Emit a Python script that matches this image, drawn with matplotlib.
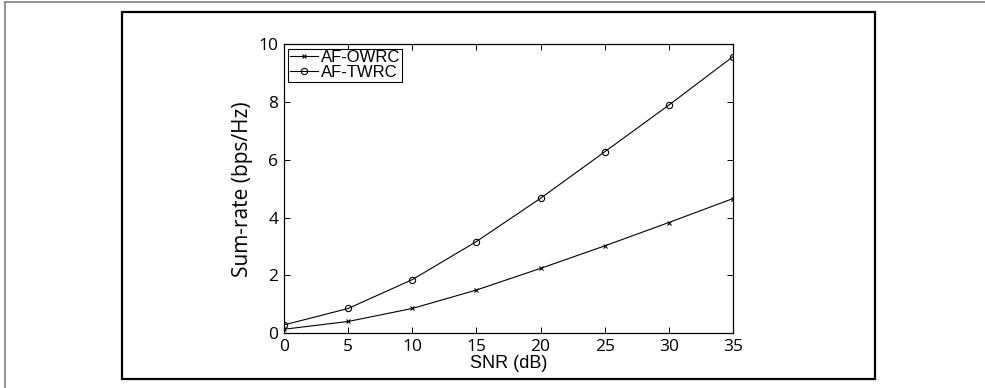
import numpy as np
import matplotlib
matplotlib.use('Agg')
from matplotlib import pyplot as plt
from matplotlib.patches import Rectangle
from matplotlib.lines import Line2D

# data
snr = [0, 5, 10, 15, 20, 25, 30, 35]
owrc = [0.13, 0.40, 0.85, 1.49, 2.24, 3.02, 3.83, 4.66]
twrc = [0.28, 0.85, 1.85, 3.17, 4.67, 6.28, 7.90, 9.58]
labels = ['AF-OWRC', 'AF-TWRC']
xticks = [0, 5, 10, 15, 20, 25, 30, 35]
yticks = [0, 2, 4, 6, 8, 10]

W, H = 985, 388
fig = plt.figure(figsize=(W/100, H/100), dpi=100)

# page-like borders
fig.add_artist(Line2D([5/W, 5/W], [0, 1 - 1.5/H], color='#7f7f7f', lw=1.2, transform=fig.transFigure))
fig.add_artist(Line2D([5/W, 1], [1 - 1.5/H, 1 - 1.5/H], color='#7f7f7f', lw=1.2, transform=fig.transFigure))
fig.add_artist(Rectangle((122/W, 1 - 379/H), (875-122)/W, (379-11.5)/H,
                         fill=False, ec='black', lw=1.6, transform=fig.transFigure))

ax = fig.add_axes([284/W, 1 - 333/H, (733-284)/W, (333-44.5)/H])
ax.plot(snr, owrc, '-x', color='black', lw=0.8, ms=3.5, mew=0.8, label=labels[0])
ax.plot(snr, twrc, '-o', color='black', lw=0.8, ms=4.5, mew=0.8, mfc='none', label=labels[1])

ax.set_xlim(0, 35)
ax.set_ylim(0, 10)
ax.set_xticks(xticks)
ax.set_yticks(yticks)
ax.tick_params(direction='in', top=True, right=True, length=4, width=0.7, pad=4,
               labelsize=12.5)
for t in ax.get_xticklabels() + ax.get_yticklabels():
    t.set_fontfamily('Open Sans')
for s in ax.spines.values():
    s.set_linewidth(0.9)

ax.set_xlabel('SNR (dB)', fontsize=13, family='Liberation Sans', labelpad=0)
ax.set_ylabel('Sum-rate (bps/Hz)', fontsize=15, family='Open Sans', labelpad=4)

leg = ax.legend(loc='upper left', prop={'family': 'Liberation Sans', 'size': 12},
                frameon=True, fancybox=False, edgecolor='black', framealpha=1,
                borderaxespad=0.25, borderpad=0.1, labelspacing=0.0,
                handlelength=1.7, handletextpad=0.15)
leg.get_frame().set_linewidth(0.8)

fig.savefig('out.png', dpi=100)
